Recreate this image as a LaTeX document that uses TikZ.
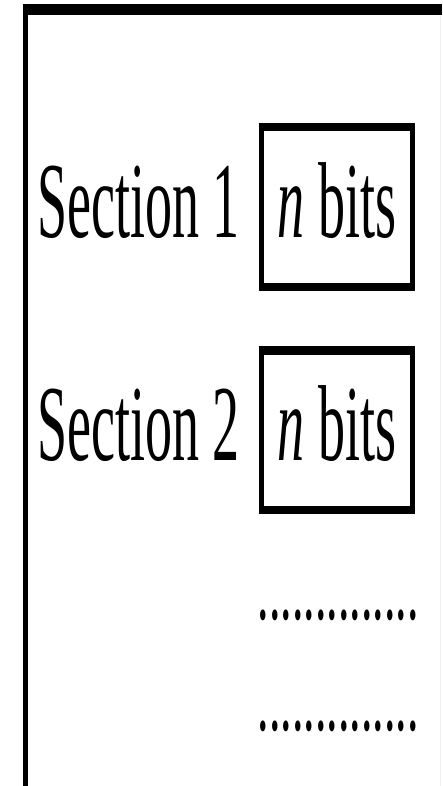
\documentclass[tikz,border=0pt]{standalone}
\usepackage{fontspec}
\setmainfont{Liberation Serif}
\usepackage{tikz}
\newcommand{\narrow}[1]{\scalebox{0.5}[1]{#1}}

\begin{document}
\begin{tikzpicture}[
  x=1pt, y=-1pt,
  frame/.style={line width=5pt},
  framebar/.style={line width=11pt},
  bitbox/.style={draw, line width=5pt, outer sep=0pt, inner sep=0pt,
                 minimum width=151pt, minimum height=163pt,
                 text height=74pt, text depth=14pt,
                 font=\fontsize{108}{120}\selectfont},
  bar/.style={line width=6pt},
  secname/.style={anchor=base west, inner sep=0pt,
                  font=\fontsize{108}{120}\selectfont},
  dotrow/.style={anchor=base, inner sep=0pt,
                 font=\fontsize{92}{100}\selectfont},
]
\useasboundingbox (0,0) rectangle (442,786);

% frame
\draw[framebar] (23,9.5) -- (442,9.5);
\draw[frame] (25.5,4) -- (25.5,792);
\draw[gray!12, line width=1pt] (440,15) -- (440,792);

% sections
\node[bitbox] (b1) at (337,207) {\narrow{\textit{n} bits}};
\node[bitbox] (b2) at (337,430) {\narrow{\textit{n} bits}};
\draw[bar] ([yshift=-3pt]b1.north west) -- ([yshift=-3pt]b1.north east);
\draw[bar] ([yshift=3pt]b1.south west) -- ([yshift=3pt]b1.south east);
\draw[bar] ([yshift=-3pt]b2.north west) -- ([yshift=-3pt]b2.north east);
\draw[bar] ([yshift=3pt]b2.south west) -- ([yshift=3pt]b2.south east);

\node[secname] (s1) at (37,237) {\narrow{Section 1}};
\node[secname] (s2) at (37,460) {\narrow{Section 2}};

\node[dotrow] (d1) at (338,619) {\narrow{..............}};
\node[dotrow] (d2) at (338,730) {\narrow{..............}};

\end{tikzpicture}
\end{document}
